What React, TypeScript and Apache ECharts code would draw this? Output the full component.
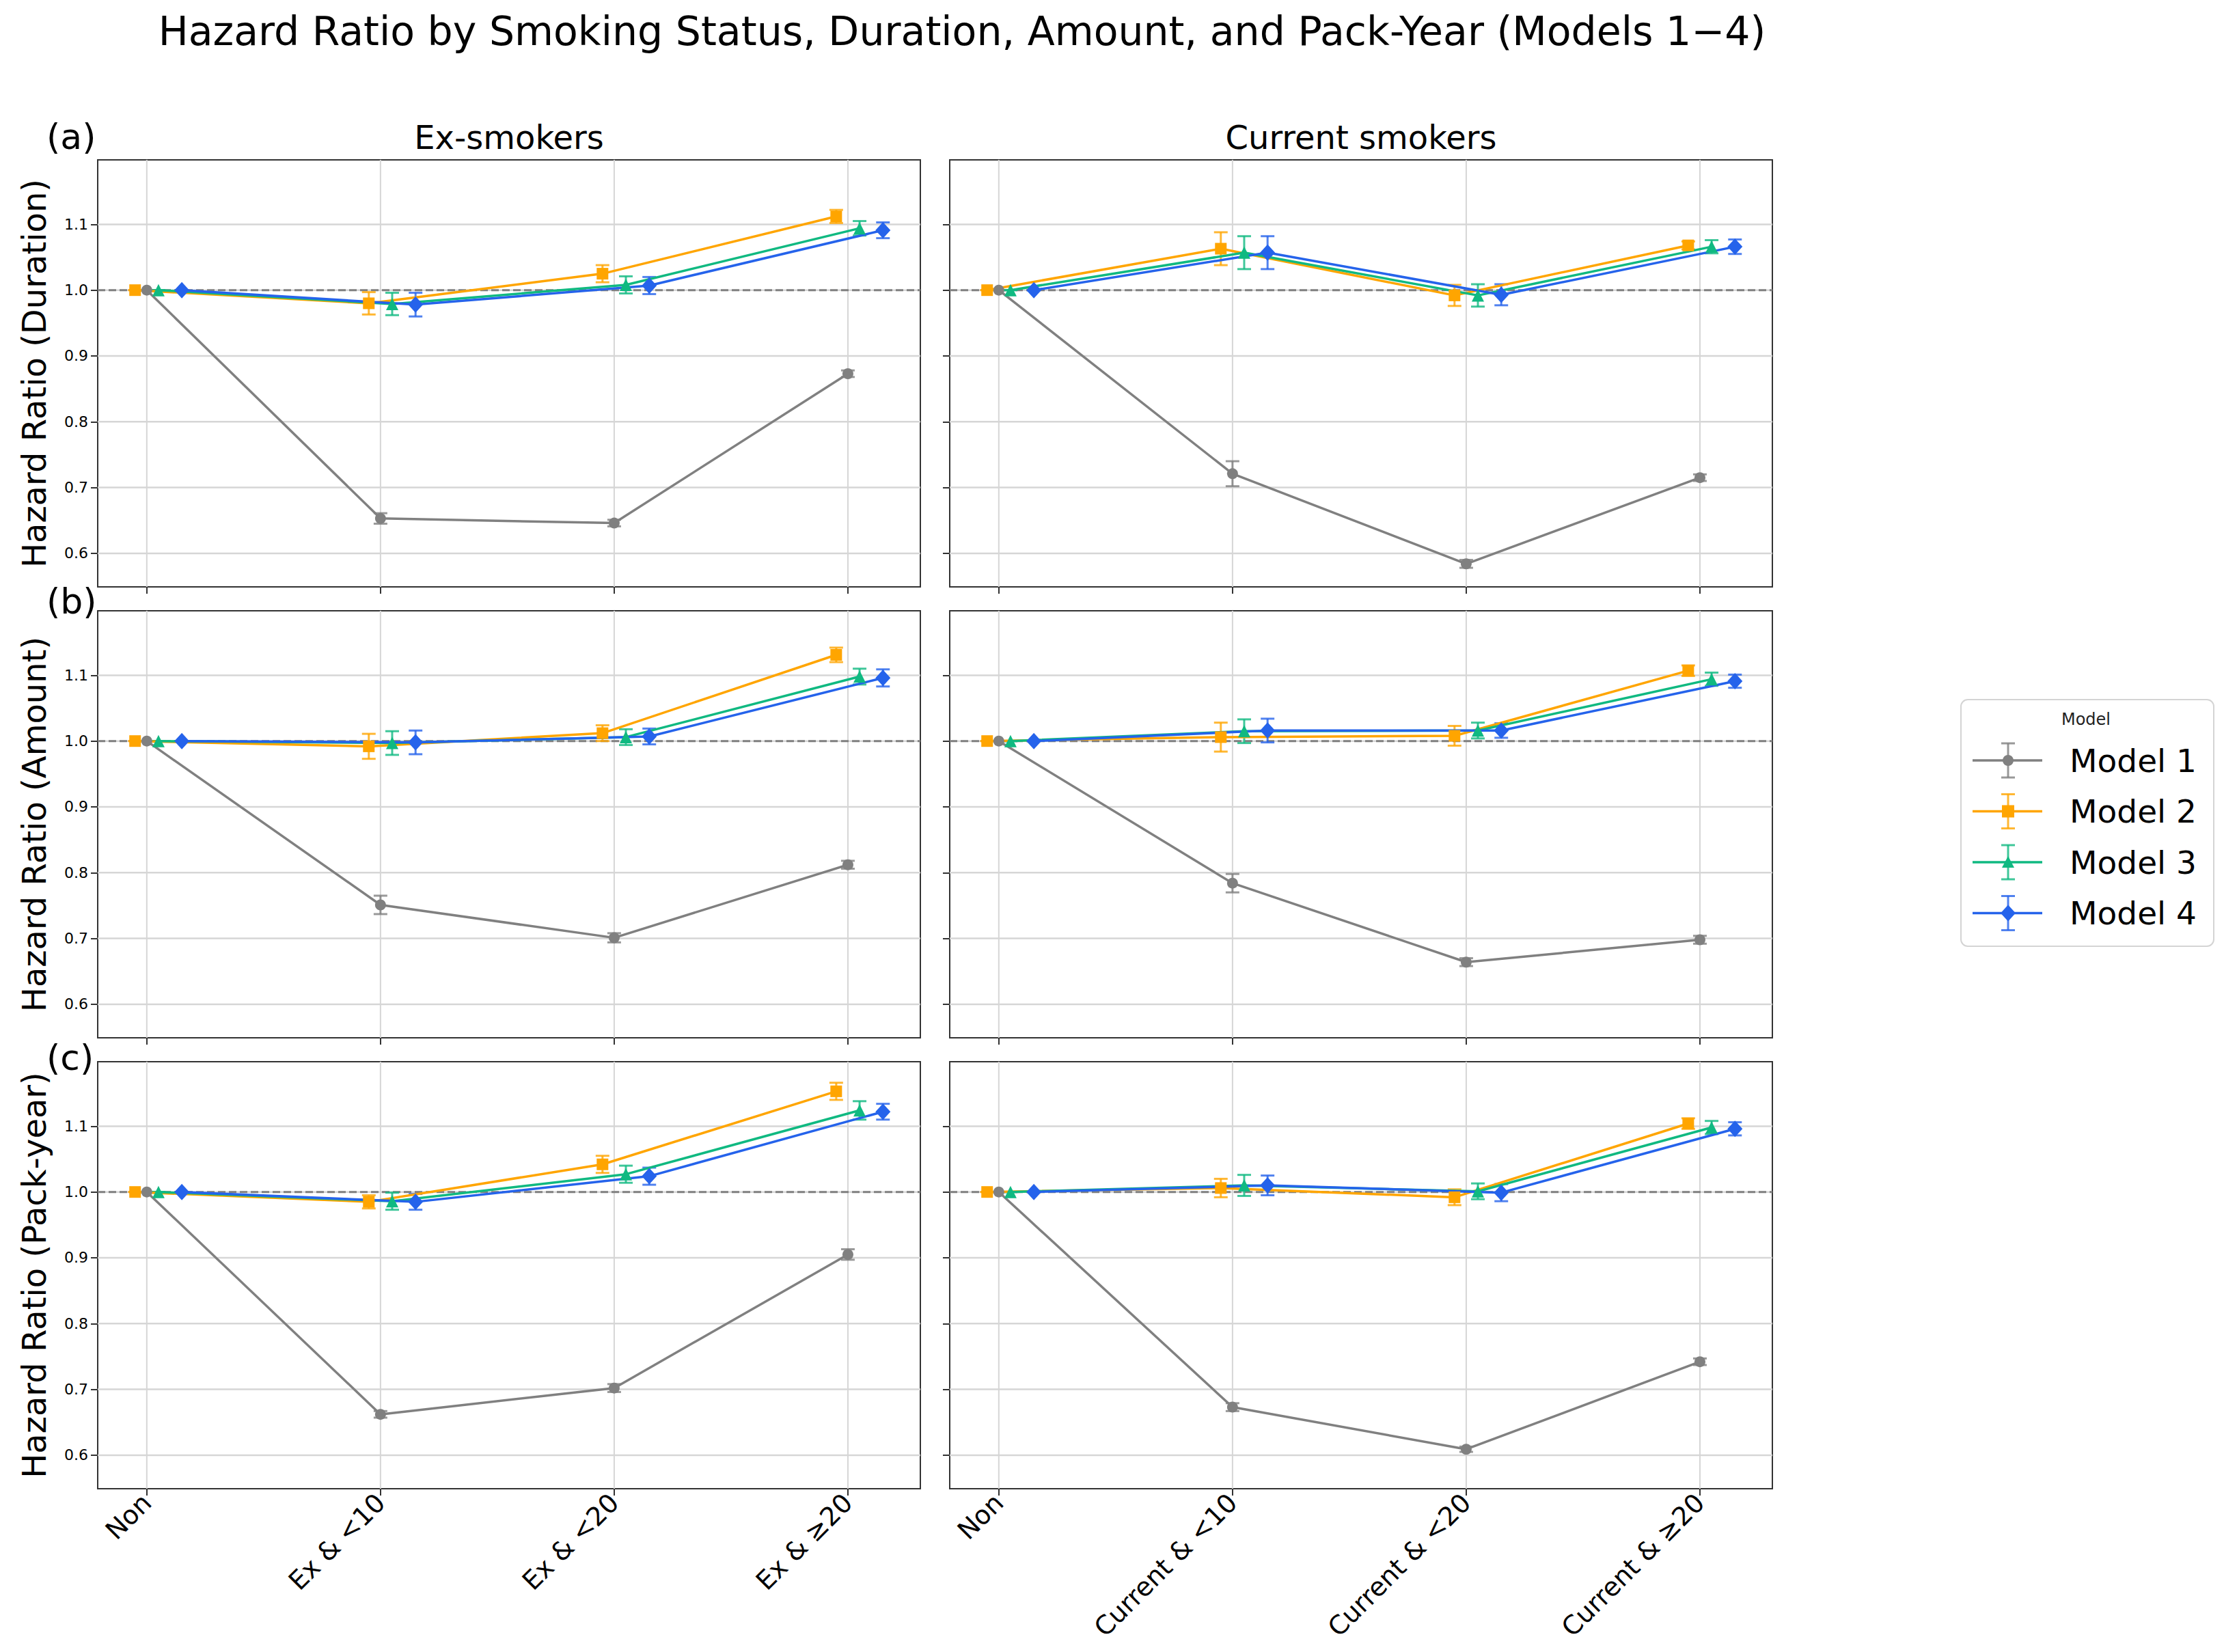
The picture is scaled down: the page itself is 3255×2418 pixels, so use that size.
import { useEffect, useRef } from 'react';
import * as echarts from 'echarts';

// ---- data ----
const exCategories = ['Non', 'Ex & <10', 'Ex & <20', 'Ex & ≥20'];
const curCategories = ['Non', 'Current & <10', 'Current & <20', 'Current & ≥20'];
const models = ['Model 1', 'Model 2', 'Model 3', 'Model 4'];
const modelColors = ['#808080', '#FFA500', '#10B981', '#2563EB'];
const modelSymbols = ['circle', 'rect', 'triangle', 'diamond'];
const modelOffsets = [0, -0.05, 0.05, 0.15];
const yTicks = [0.6, 0.7, 0.8, 0.9, 1.0, 1.1];
const xTicks = [0, 1, 2, 3];
const rowTitles = ['Hazard Ratio (Duration)', 'Hazard Ratio (Amount)', 'Hazard Ratio (Pack-year)'];
const rowTags = ['(a)', '(b)', '(c)'];
const colTitles = ['Ex-smokers', 'Current smokers'];

// hazard ratio per model (rows) and category (columns), with half-width of the error bar
const exDuration = [[1, 0.653, 0.646, 0.873], [1, 0.980, 1.025, 1.112], [1, 0.979, 1.008, 1.094], [1, 0.978, 1.007, 1.091]];
const exDurationErr = [[0, 0.008, 0.005, 0.005], [0, 0.017, 0.013, 0.010], [0, 0.017, 0.013, 0.011], [0, 0.018, 0.013, 0.012]];
const curDuration = [[1, 0.721, 0.584, 0.715], [1, 1.063, 0.992, 1.068], [1, 1.057, 0.992, 1.066], [1, 1.057, 0.993, 1.066]];
const curDurationErr = [[0, 0.019, 0.006, 0.005], [0, 0.025, 0.016, 0.006], [0, 0.025, 0.017, 0.010], [0, 0.025, 0.016, 0.011]];

const exAmount = [[1, 0.751, 0.701, 0.812], [1, 0.992, 1.012, 1.131], [1, 0.997, 1.006, 1.098], [1, 0.998, 1.007, 1.096]];
const exAmountErr = [[0, 0.014, 0.007, 0.006], [0, 0.019, 0.012, 0.011], [0, 0.018, 0.012, 0.012], [0, 0.018, 0.012, 0.013]];
const curAmount = [[1, 0.784, 0.664, 0.698], [1, 1.006, 1.008, 1.107], [1, 1.015, 1.016, 1.094], [1, 1.016, 1.016, 1.091]];
const curAmountErr = [[0, 0.014, 0.006, 0.006], [0, 0.022, 0.015, 0.008], [0, 0.018, 0.012, 0.010], [0, 0.018, 0.011, 0.010]];

const exPackYear = [[1, 0.662, 0.702, 0.905], [1, 0.985, 1.042, 1.153], [1, 0.986, 1.027, 1.124], [1, 0.985, 1.024, 1.122]];
const exPackYearErr = [[0, 0.005, 0.006, 0.008], [0, 0.010, 0.013, 0.013], [0, 0.013, 0.013, 0.014], [0, 0.012, 0.013, 0.012]];
const curPackYear = [[1, 0.673, 0.609, 0.742], [1, 1.006, 0.992, 1.104], [1, 1.010, 1.001, 1.098], [1, 1.010, 0.999, 1.096]];
const curPackYearErr = [[0, 0.006, 0.004, 0.005], [0, 0.014, 0.012, 0.008], [0, 0.016, 0.012, 0.010], [0, 0.015, 0.013, 0.010]];

const panels = [
    { row: 0, col: 0, values: exDuration, errs: exDurationErr },
    { row: 0, col: 1, values: curDuration, errs: curDurationErr },
    { row: 1, col: 0, values: exAmount, errs: exAmountErr },
    { row: 1, col: 1, values: curAmount, errs: curAmountErr },
    { row: 2, col: 0, values: exPackYear, errs: exPackYearErr },
    { row: 2, col: 1, values: curPackYear, errs: curPackYearErr },
];

// ---- layout ----
const FONT = 'DejaVu Sans';
const GRID_LEFT = [143, 1390];
const GRID_TOP = [234, 894, 1554];
const GRID_W = 1204;
const GRID_H = 625;
const X_MIN = -0.21;
const X_MAX = 3.31;
const Y_MIN = 0.549;
const Y_MAX = 1.198;
const GRID_COLOR = '#d6d6d6';
const SPINE = '#333333';
const CAP = 10;

const symbolSizes: any[] = [16, 17, 18, [22, 24]];

function buildOption(): echarts.EChartsCoreOption {
    const grid: any[] = [];
    const xAxis: any[] = [];
    const yAxis: any[] = [];
    const series: any[] = [];

    panels.forEach((p, i) => {
        const cats = p.col === 0 ? exCategories : curCategories;
        grid.push({
            left: GRID_LEFT[p.col],
            top: GRID_TOP[p.row],
            width: GRID_W,
            height: GRID_H,
            show: true,
            borderColor: SPINE,
            borderWidth: 2,
            backgroundColor: 'transparent',
        });
        xAxis.push({
            gridIndex: i,
            type: 'value',
            min: X_MIN,
            max: X_MAX,
            position: 'bottom',
            splitLine: { show: false },
            axisLine: { show: false, onZero: false },
            axisTick: { show: true, customValues: xTicks, length: 10, lineStyle: { color: SPINE, width: 2 } },
            axisLabel: {
                show: p.row === 2,
                customValues: xTicks,
                formatter: (v: number) => cats[Math.round(v)] ?? '',
                rotate: 45,
                fontSize: 38,
                fontFamily: FONT,
                color: '#000',
                margin: 14,
            },
        });
        yAxis.push({
            gridIndex: i,
            type: 'value',
            min: Y_MIN,
            max: Y_MAX,
            position: 'left',
            splitLine: { show: false },
            axisLine: { show: false, onZero: false },
            axisTick: { show: true, customValues: yTicks, length: 10, lineStyle: { color: SPINE, width: 2 } },
            axisLabel: {
                show: p.col === 0,
                customValues: yTicks,
                formatter: (v: number) => v.toFixed(1),
                fontSize: 22,
                fontFamily: FONT,
                color: '#000',
                margin: 14,
            },
        });

        // horizontal grid lines
        series.push({
            type: 'custom',
            xAxisIndex: i,
            yAxisIndex: i,
            silent: true,
            z: 1,
            data: yTicks.map((v) => [X_MIN, v]),
            renderItem: (params: any, api: any) => {
                const cs = params.coordSys;
                const y = api.coord([X_MIN, api.value(1)])[1];
                return { type: 'line', shape: { x1: cs.x, y1: y, x2: cs.x + cs.width, y2: y }, style: { stroke: GRID_COLOR, lineWidth: 2.5 } };
            },
        });
        // vertical grid lines
        series.push({
            type: 'custom',
            xAxisIndex: i,
            yAxisIndex: i,
            silent: true,
            z: 1,
            data: xTicks.map((v) => [v, Y_MIN]),
            renderItem: (params: any, api: any) => {
                const cs = params.coordSys;
                const x = api.coord([api.value(0), Y_MIN])[0];
                return { type: 'line', shape: { x1: x, y1: cs.y, x2: x, y2: cs.y + cs.height }, style: { stroke: GRID_COLOR, lineWidth: 2 } };
            },
        });
        // reference line HR = 1
        series.push({
            type: 'custom',
            xAxisIndex: i,
            yAxisIndex: i,
            silent: true,
            z: 1,
            data: [[X_MIN, 1.0]],
            renderItem: (params: any, api: any) => {
                const cs = params.coordSys;
                const y = api.coord([X_MIN, api.value(1)])[1];
                return { type: 'line', shape: { x1: cs.x, y1: y, x2: cs.x + cs.width, y2: y }, style: { stroke: '#808080', lineWidth: 3, lineDash: [11, 5] } };
            },
        });

        models.forEach((name, m) => {
            const color = modelColors[m];
            const off = modelOffsets[m];
            // error bars
            series.push({
                type: 'custom',
                name,
                xAxisIndex: i,
                yAxisIndex: i,
                silent: true,
                z: 2,
                encode: { x: 0, y: [1, 2] },
                data: p.values[m].map((v, k) => [k + off, v - p.errs[m][k], v + p.errs[m][k]]),
                renderItem: (_params: any, api: any) => {
                    const x = api.value(0);
                    const lo = api.coord([x, api.value(1)]);
                    const hi = api.coord([x, api.value(2)]);
                    const style = { stroke: color, lineWidth: 3, opacity: 0.8 };
                    return {
                        type: 'group',
                        children: [
                            { type: 'line', shape: { x1: lo[0], y1: lo[1], x2: hi[0], y2: hi[1] }, style },
                            { type: 'line', shape: { x1: lo[0] - CAP, y1: lo[1], x2: lo[0] + CAP, y2: lo[1] }, style },
                            { type: 'line', shape: { x1: hi[0] - CAP, y1: hi[1], x2: hi[0] + CAP, y2: hi[1] }, style },
                        ],
                    };
                },
            });
            // line + markers
            series.push({
                type: 'line',
                name,
                xAxisIndex: i,
                yAxisIndex: i,
                z: 3,
                silent: true,
                symbol: modelSymbols[m],
                symbolSize: symbolSizes[m],
                showAllSymbol: true,
                itemStyle: { color, opacity: 1 },
                lineStyle: { color, width: 3.5 },
                data: p.values[m].map((v, k) => [k + off, v]),
            });
        });
    });

    // ---- texts ----
    const graphic: any[] = [];
    graphic.push({
        type: 'text',
        x: 1408,
        y: 46,
        style: { text: 'Hazard Ratio by Smoking Status, Duration, Amount, and Pack-Year (Models 1−4)', font: `58.5px "${FONT}"`, fill: '#000', textAlign: 'center', textVerticalAlign: 'middle' },
    });
    colTitles.forEach((t, c) => {
        graphic.push({
            type: 'text',
            x: GRID_LEFT[c] + GRID_W / 2,
            y: 201,
            style: { text: t, font: `48px "${FONT}"`, fill: '#000', textAlign: 'center', textVerticalAlign: 'middle' },
        });
    });
    const tagY = [200, 880, 1548];
    rowTags.forEach((t, r) => {
        graphic.push({
            type: 'text',
            x: 68,
            y: tagY[r],
            style: { text: t, font: `52px "${FONT}"`, fill: '#000', textAlign: 'left', textVerticalAlign: 'middle' },
        });
        graphic.push({
            type: 'text',
            x: 50,
            y: GRID_TOP[r] + GRID_H / 2,
            rotation: Math.PI / 2,
            style: { text: rowTitles[r], font: `48px "${FONT}"`, fill: '#000', textAlign: 'center', textVerticalAlign: 'middle' },
        });
    });

    // ---- legend (drawn by hand to show error-bar handles) ----
    const LX = 2870, LY = 1024, LW = 370, LH = 361;
    graphic.push({
        type: 'rect',
        shape: { x: LX, y: LY, width: LW, height: LH, r: 10 },
        style: { fill: '#fff', stroke: '#d4d4d4', lineWidth: 2 },
    });
    graphic.push({
        type: 'text',
        x: 3053,
        y: 1053,
        style: { text: 'Model', font: `24px "${FONT}"`, fill: '#222', textAlign: 'center', textVerticalAlign: 'middle' },
    });
    models.forEach((name, m) => {
        const cy = 1113 + m * 74.5;
        const cx = 2939;
        const color = modelColors[m];
        const bar = { stroke: color, lineWidth: 3, opacity: 0.8 };
        graphic.push({ type: 'line', shape: { x1: 2887, y1: cy, x2: 2989, y2: cy }, style: { stroke: color, lineWidth: 3.5 } });
        graphic.push({ type: 'line', shape: { x1: cx, y1: cy - 25, x2: cx, y2: cy + 25 }, style: bar });
        graphic.push({ type: 'line', shape: { x1: cx - CAP, y1: cy - 25, x2: cx + CAP, y2: cy - 25 }, style: bar });
        graphic.push({ type: 'line', shape: { x1: cx - CAP, y1: cy + 25, x2: cx + CAP, y2: cy + 25 }, style: bar });
        if (modelSymbols[m] === 'circle') {
            graphic.push({ type: 'circle', shape: { cx, cy, r: 8 }, style: { fill: color } });
        } else if (modelSymbols[m] === 'rect') {
            graphic.push({ type: 'rect', shape: { x: cx - 9, y: cy - 9, width: 18, height: 18 }, style: { fill: color } });
        } else if (modelSymbols[m] === 'triangle') {
            graphic.push({ type: 'polygon', shape: { points: [[cx, cy - 9], [cx + 9, cy + 8], [cx - 9, cy + 8]] }, style: { fill: color } });
        } else {
            graphic.push({ type: 'polygon', shape: { points: [[cx, cy - 12], [cx + 11, cy], [cx, cy + 12], [cx - 11, cy]] }, style: { fill: color } });
        }
        graphic.push({
            type: 'text',
            x: 3029,
            y: cy,
            style: { text: name, font: `47px "${FONT}"`, fill: '#000', textAlign: 'left', textVerticalAlign: 'middle' },
        });
    });

    return {
        animation: false,
        backgroundColor: '#fff',
        textStyle: { fontFamily: FONT },
        grid,
        xAxis,
        yAxis,
        series,
        graphic,
    };
}

export default function App() {
    const chartRef = useRef<HTMLDivElement>(null);

    useEffect(() => {
        if (!chartRef.current) return;
        const chart = echarts.init(chartRef.current, undefined, { renderer: 'svg' });
        chart.setOption(buildOption());
        return () => {
            chart.dispose();
        };
    }, []);

    return (
        <div
            ref={chartRef}
            style={{ position: 'fixed', left: 0, top: 0, width: 3255, height: 2418, background: '#fff' }}
        />
    );
}
